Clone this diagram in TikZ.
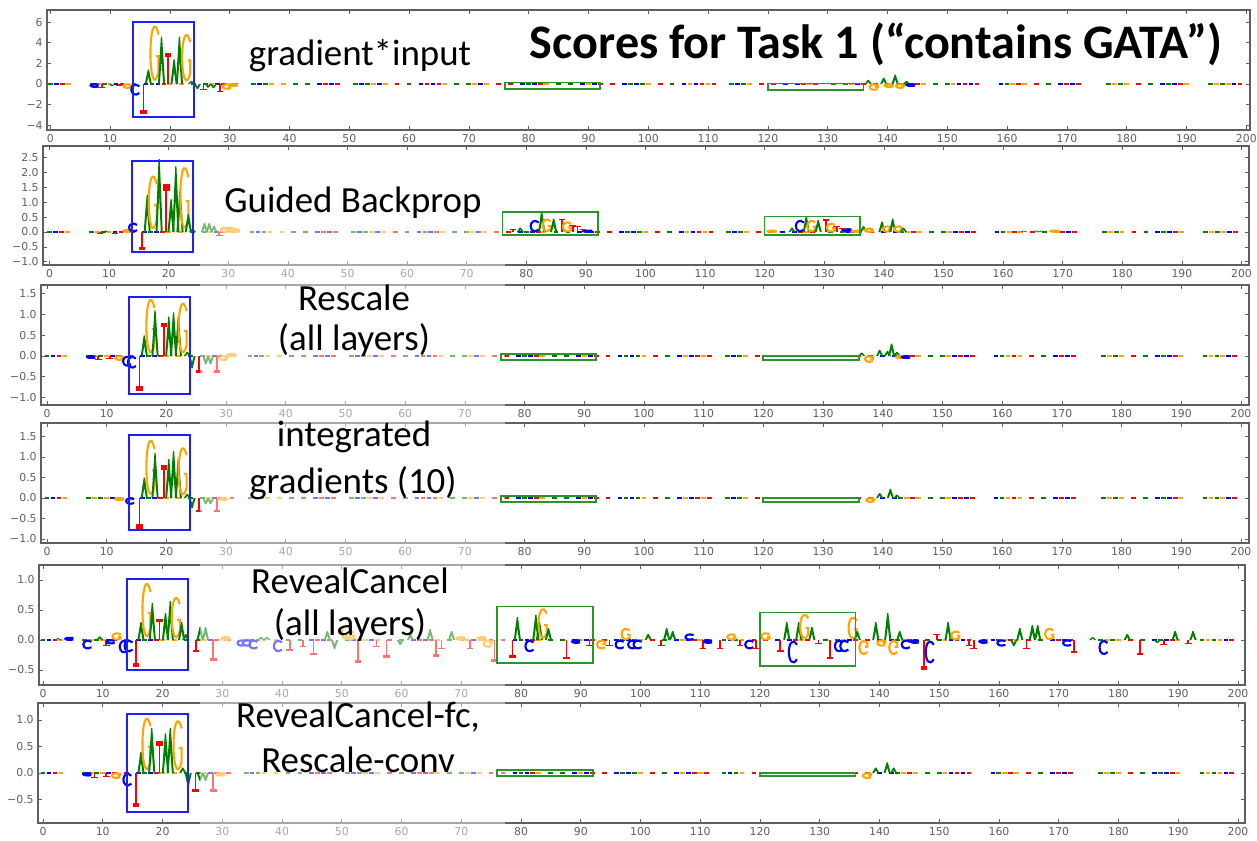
\documentclass[tikz,border=0pt]{standalone}
\usepackage{fontspec}
\setmainfont{Carlito}
\newfontfamily\tickfont{DejaVu Sans}
\usetikzlibrary{positioning}
\definecolor{baseA}{RGB}{0,128,0}
\definecolor{baseC}{RGB}{0,0,255}
\definecolor{baseG}{RGB}{255,165,0}
\definecolor{baseT}{RGB}{255,0,0}
\definecolor{axisgray}{RGB}{95,95,95}
\definecolor{boxgreen}{RGB}{40,150,40}
\definecolor{boxblue}{RGB}{30,30,255}
\colorlet{track0}{baseA}
\colorlet{track1}{baseC}
\colorlet{track2}{baseG}
\colorlet{track3}{baseT}

\tikzset{
  frame/.style={draw=axisgray, line width=0.8pt},
  tickmark/.style={draw=axisgray, line width=0.4pt},
  ticklab/.style={font=\tickfont\fontsize{6.2}{7}\selectfont, text=axisgray, inner sep=0pt},
  motifbox/.style={draw=boxblue, line width=1.1pt},
  sitebox/.style={draw=boxgreen, line width=1pt},
  method/.style={font=\fontsize{21}{24}\selectfont, inner sep=0pt, anchor=base},
  % data coordinates of each panel (shift in pixels, then units per score)
  gradpanel/.style={shift={(50.3,84)}, x={(0.1196cm,0cm)}, y={(0cm,0.206cm)}},
  guidedpanel/.style={shift={(49.5,232)}, x={(0.1192cm,0cm)}, y={(0cm,0.596cm)}},
  rescalepanel/.style={shift={(47,356)}, x={(0.1194cm,0cm)}, y={(0cm,0.83cm)}},
  intgradpanel/.style={shift={(47,498)}, x={(0.1194cm,0cm)}, y={(0cm,0.82cm)}},
  revealpanel/.style={shift={(43,640)}, x={(0.1195cm,0cm)}, y={(0cm,1.2cm)}},
  mixedpanel/.style={shift={(43,773)}, x={(0.1195cm,0cm)}, y={(0cm,1.06cm)}},
}

% letters of the logo: position, height
\newcommand{\logoA}[2]{\fill[fill=baseA] ({#1-0.6},0) -- ({#1-0.1},#2) -- ({#1+0.1},#2) -- ({#1+0.6},0) -- ({#1+0.28},0) -- (#1,{0.5*#2}) -- ({#1-0.28},0) -- cycle;}
\newcommand{\logoT}[2]{\fill[fill=baseT] ({#1-0.14},0) rectangle ({#1+0.14},#2); \fill[fill=baseT] ({#1-0.55},#2) rectangle ({#1+0.55},{0.86*#2});}
\newcommand{\logoC}[2]{\draw[draw=baseC, line width=1.2pt] ({#1+0.6},{0.8*#2}) .. controls ({#1-0.1},{1.1*#2}) and ({#1-0.75},{0.85*#2}) .. ({#1-0.75},{0.5*#2}) .. controls ({#1-0.75},{0.15*#2}) and ({#1-0.1},{-0.1*#2}) .. ({#1+0.6},{0.2*#2});}
\newcommand{\logoG}[2]{\draw[draw=baseG, line width=1.2pt] ({#1+0.6},{0.8*#2}) .. controls ({#1-0.1},{1.1*#2}) and ({#1-0.75},{0.85*#2}) .. ({#1-0.75},{0.5*#2}) .. controls ({#1-0.75},{0.15*#2}) and ({#1-0.1},{-0.1*#2}) .. ({#1+0.6},{0.2*#2}) -- ({#1+0.6},{0.45*#2}) -- ({#1+0.15},{0.45*#2});}
\newcommand{\logo}[3]{\csname logo#1\endcsname{#2}{#3}}

% flat track of small letters along zero
\newcommand{\seqtrack}{%
  \foreach \i in {0,...,199}{
    \pgfmathtruncatemacro\k{mod(mod(\i*37,11)*3+mod(\i*13,17),6)}
    \ifnum\k<4 \draw[line width=1pt, draw=track\k] ({\i-0.4},0) -- ({\i+0.4},0);\fi
  }}

% frame and x ticks: x0, sx, left, right, top, bottom
\newcommand{\xaxis}[6]{%
  \draw[frame] (#3,#5) rectangle (#4,#6);
  \foreach \t in {0,10,...,200}{
    \pgfmathsetmacro\tx{#1+#2*\t}
    \draw[tickmark] (\tx,#6) -- ++(0,-4) (\tx,#5) -- ++(0,4);
    \node[ticklab] at (\tx,#6+9) {\t};
  }}
% y ticks: y0, sy, left, right, values
\newcommand{\yaxis}[5]{%
  \foreach \v/\lab in {#5}{
    \pgfmathsetmacro\ty{#1-#2*\v}
    \draw[tickmark] (#3,\ty) -- ++(4,0) (#4,\ty) -- ++(-4,0);
    \node[ticklab, anchor=east] at (#3-4,\ty) {\lab};
  }}

\begin{document}
\begin{tikzpicture}[x=0.02cm, y=-0.02cm]
  \useasboundingbox (0,0) rectangle (1257,840);
  \fill[fill=white] (0,0) rectangle (1257,840);

  % gradient*input
  \xaxis{50.3}{5.98}{47}{1250}{10}{130}
  \yaxis{84}{10.3}{47}{1250}{-4/−4,-2/−2,0/0,2/2,4/4,6/6}
  \begin{scope}[gradpanel]
    \seqtrack
    \foreach \b/\p/\h in {C/7.5/-0.3, T/8.6/-0.35, A/10.3/-0.2, T/11.5/-0.15, G/13/-0.4,
        C/14.3/-1.1, T/15.6/-2.9, A/16.4/1.4, G/17.5/6.0, A/18.6/4.6, T/19.7/3.0, A/20.7/2.4,
        A/21.6/4.6, G/22.8/5.1, A/23.6/0.3, A/24.6/-0.5, T/25.6/-0.6, A/26.4/-0.35, A/27.3/-0.4,
        T/28.4/-0.75, G/29.6/-0.5, G/30.6/-0.2, A/136.8/0.4, G/137.8/-0.6, A/139.4/0.6,
        G/140.3/-0.3, A/141.3/0.9, G/142.2/-0.4, A/143.2/0.3, C/144/-0.2}
      {\logo{\b}{\p}{\h}}
  \end{scope}

  % Guided Backprop
  \xaxis{49.5}{5.96}{43}{1249}{146}{265}
  \yaxis{232}{29.8}{43}{1249}{-1.0/−1.0,-0.5/−0.5,0/0.0,0.5/0.5,1.0/1.0,1.5/1.5,2.0/2.0,2.5/2.5}
  \begin{scope}[guidedpanel]
    \seqtrack
    \foreach \b/\p/\h in {A/9.3/0.05, T/8.5/-0.05, T/11/-0.05, G/13.2/0.08,
        C/14.1/0.3, T/15.5/-0.6, A/16.4/1.25, G/17.4/2.0, A/18.4/2.45, T/19.6/1.6, A/20.4/1.1,
        A/21.2/2.2, A/21.9/1.4, G/22.7/2.3, A/23.3/0.6, A/24/0.1, A/26/0.3, A/26.8/0.3,
        A/27.6/0.2, T/28.5/-0.1, G/29.5/0.15, G/30.4/0.15, G/31.2/0.1,
        T/77.8/0.1, A/79/0.15, C/81.5/0.4, A/82.6/0.68, G/83.5/0.45, A/84.6/0.45, T/86/0.45,
        G/86.9/0.35, T/87.8/0.25, T/88.6/0.2, T/89.5/0.1, C/90.5/0.05,
        G/121.3/0.05, A/124.6/0.15, C/126/0.4, A/127/0.52, G/127.9/0.4, A/129/0.4, T/130.3/0.42,
        G/131.2/0.3, T/132.1/0.2, T/133/0.15, C/134/0.1, G/135.5/0.05,
        A/136.6/0.2, G/137.6/0.12, A/139.7/0.35, G/140.6/0.2, A/141.5/0.45, G/142.5/0.2,
        A/143.3/0.15, A/163.5/0.05, A/165.5/0.05, A/166.5/0.05, G/168.8/0.05}
      {\logo{\b}{\p}{\h}}
  \end{scope}

  % Rescale
  \xaxis{47}{5.97}{41}{1249}{285}{405}
  \yaxis{356}{41.5}{41}{1249}{-1.0/−1.0,-0.5/−0.5,0/0.0,0.5/0.5,1.0/1.0,1.5/1.5}
  \begin{scope}[rescalepanel]
    \seqtrack
    \foreach \b/\p/\h in {C/7.5/-0.05, T/8.6/-0.08, T/10.5/-0.05, G/12.2/-0.1,
        C/13.5/-0.25, C/14.3/-0.3, T/15.5/-0.85, A/16.3/0.5, G/17.4/1.45, A/18.1/1.1,
        T/19.6/0.8, A/20.4/0.95, A/21.2/1.05, A/22/0.95, G/22.8/1.35, A/23.5/0.1,
        A/24.3/-0.3, T/25.5/-0.4, A/26.6/-0.2, A/27.4/-0.2, T/28.5/-0.4, G/29.6/-0.1, G/31/0.05,
        A/136.5/0.08, G/137.8/-0.15, A/139.5/0.15, A/140.8/0.12, A/141.5/0.3, A/142.4/0.1,
        G/143/-0.05, C/144/-0.05}
      {\logo{\b}{\p}{\h}}
  \end{scope}

  % integrated gradients
  \xaxis{47}{5.97}{41}{1249}{423}{543}
  \yaxis{498}{41}{41}{1249}{-1.0/−1.0,-0.5/−0.5,0/0.0,0.5/0.5,1.0/1.0,1.5/1.5}
  \begin{scope}[intgradpanel]
    \seqtrack
    \foreach \b/\p/\h in {G/12.2/-0.05, C/14/-0.15, T/15.5/-0.75, A/16.3/0.5, G/17.4/1.5,
        A/18.1/1.1, T/19.6/0.8, A/20.4/0.95, A/21.2/1.15, A/22/0.95, G/22.8/1.3, A/23.5/0.1,
        A/24.3/-0.25, T/25.5/-0.35, A/26.6/-0.15, A/27.4/-0.15, T/28.5/-0.35, G/29.6/-0.05,
        G/138/-0.1, A/139.5/0.12, A/141.3/0.22, A/142.4/0.08}
      {\logo{\b}{\p}{\h}}
  \end{scope}

  % RevealCancel
  \xaxis{43}{5.975}{39}{1245}{565}{685}
  \yaxis{640}{60}{39}{1245}{-0.5/−0.5,0/0.0,0.5/0.5,1.0/1.0}
  \begin{scope}[revealpanel]
    \seqtrack
    \foreach \b/\p/\h in {A/2.5/0.03, C/4.5/0.04, C/7.5/-0.15, A/9.5/0.06, T/10.6/-0.1,
        C/11.4/-0.06, G/12.4/0.12, C/13.6/-0.22, C/14.4/-0.2, T/15.6/-0.45, A/16.4/0.3,
        G/17.4/1.0, A/18.3/0.62, T/19.5/0.35, A/20.5/0.45, A/21.3/0.65, G/22.3/0.75,
        A/23.2/0.3, A/23.9/0.1, T/25.6/-0.2, A/26.3/0.22, A/27.2/0.22, T/28.5/-0.35,
        G/30.6/0.05, C/33.3/-0.1, C/34.2/-0.1, C/35.3/-0.15, A/36.5/0.05, A/37.5/0.05,
        C/39.4/-0.2, T/41.3/-0.18, T/43.5/-0.12, T/45.3/-0.25, A/47.6/0.15, A/48.8/-0.15,
        G/50.8/0.25, G/51.5/0.15, T/52.7/-0.38, T/55.8/-0.12, T/57.5/-0.3, A/59.8/-0.08,
        A/61.5/0.1, A/64.8/0.18, T/65.8/-0.28, T/66.7/-0.15, A/68.4/0.15, G/70/0.05,
        T/71.5/-0.15, G/73.5/0.05, G/74.5/-0.12, T/75.6/-0.36,
        T/78.6/-0.3, A/79.4/0.38, C/81.5/-0.2, A/82.5/0.42, A/83.1/0.3, G/83.7/0.55,
        A/84.6/0.2, T/87.6/-0.32, C/89.3/-0.05, T/91.5/-0.1,
        G/93.5/-0.15, T/94.8/-0.1, C/96.6/-0.15, G/97.6/0.2, C/98.7/-0.15, C/99.6/-0.15,
        A/101.3/0.1, T/103.5/-0.1, A/104.4/0.2, A/105.4/0.15, C/108.3/0.1, T/110.5/-0.15,
        C/111.4/-0.05, T/113.3/-0.15, G/115.3/0.1, T/116.7/-0.1, C/118.3/-0.15, T/119.3/-0.15,
        G/121/0.12, T/123.4/-0.2, A/124.5/0.3, C/125.6/-0.4, A/126.5/0.3, G/127.5/0.45,
        A/128.7/0.22, T/129.8/-0.05, T/131.7/-0.32, C/133.3/-0.2, C/134.2/-0.2, G/135.6/0.4,
        A/136.3/0.15, G/137.4/-0.25, A/139.4/0.3, G/140.4/-0.1, A/141.4/0.45, G/142.4/-0.25,
        A/143.4/0.15, C/144.5/-0.15, C/146/-0.05, T/147.5/-0.5, C/148.5/-0.4, T/149.6/0.1,
        A/151.5/0.3, G/152.8/0.15, T/155/-0.1, T/155.8/-0.15, C/157.5/-0.05, C/160.5/-0.1,
        A/162.5/-0.1, A/163.5/0.2, T/164.6/-0.15, A/165.6/0.25, A/166.5/0.25, G/168.5/0.2,
        C/171.5/-0.1, T/172.6/-0.22, A/175.7/0.05, C/177.6/-0.25, A/181.5/0.1, T/183.6/-0.25,
        A/186.5/-0.05, T/187.6/-0.07, A/189.5/0.15, T/191.7/-0.05, A/192.5/0.15}
      {\logo{\b}{\p}{\h}}
  \end{scope}

  % RevealCancel-fc, Rescale-conv
  \xaxis{43}{5.975}{38}{1245}{703}{823}
  \yaxis{773}{53}{38}{1245}{-0.5/−0.5,0/0.0,0.5/0.5,1.0/1.0}
  \begin{scope}[mixedpanel]
    \seqtrack
    \foreach \b/\p/\h in {C/7.5/-0.05, T/8.6/-0.08, T/10.6/-0.06, G/12.3/-0.1,
        C/14.2/-0.25, T/15.6/-0.65, A/16.4/0.4, G/17.4/1.1, A/18.2/0.85, T/19.5/0.6,
        A/20.5/0.75, A/21.3/0.85, G/22.6/1.05, A/23.4/0.1, A/24.3/-0.25, T/25.5/-0.35,
        A/26.3/-0.15, A/27.2/-0.15, T/28.5/-0.35, G/29.8/-0.05,
        G/138/-0.1, A/139.4/0.1, A/141.3/0.2, A/142.4/0.1}
      {\logo{\b}{\p}{\h}}
  \end{scope}

  % pasted strip that washes out the plots
  \fill[fill=white, opacity=0.45] (200,150) rectangle (505,840);

  % motif and site boxes
  \begin{scope}[gradpanel]
    \draw[motifbox] (13.9,-3.2) rectangle (24.1,6.0);
    \draw[sitebox] (76,-0.5) rectangle (92,0.15);
    \draw[sitebox] (120,-0.55) rectangle (136,0.05);
  \end{scope}
  \begin{scope}[guidedpanel]
    \draw[motifbox] (13.9,-0.66) rectangle (24.1,2.39);
    \draw[sitebox] (76,-0.1) rectangle (92,0.68);
    \draw[sitebox] (120,-0.1) rectangle (136,0.52);
  \end{scope}
  \begin{scope}[rescalepanel]
    \draw[motifbox] (13.8,-0.92) rectangle (24,1.43);
    \draw[sitebox] (76,-0.1) rectangle (92,0.05);
    \draw[sitebox] (120,-0.1) rectangle (136,0.0);
  \end{scope}
  \begin{scope}[intgradpanel]
    \draw[motifbox] (13.8,-0.78) rectangle (24,1.53);
    \draw[sitebox] (76,-0.1) rectangle (92,0.05);
    \draw[sitebox] (120,-0.1) rectangle (136,0.0);
  \end{scope}
  \begin{scope}[revealpanel]
    \draw[motifbox] (14.1,-0.5) rectangle (24.3,1.02);
    \draw[sitebox] (76,-0.38) rectangle (92,0.56);
    \draw[sitebox] (120,-0.43) rectangle (136,0.46);
  \end{scope}
  \begin{scope}[mixedpanel]
    \draw[motifbox] (14.1,-0.73) rectangle (24.2,1.12);
    \draw[sitebox] (76,-0.05) rectangle (92,0.05);
    \draw[sitebox] (120,-0.05) rectangle (136,0.0);
  \end{scope}

  \node[font=\bfseries\fontsize{27.4}{30}\selectfont, inner sep=0pt, anchor=base] (title) at (876,58) {Scores for Task 1 (“contains GATA”)};
  \node[method] (gradinput) at (360,65) {gradient*input};
  \node[method] (guided) at (353,212) {Guided Backprop};
  \node[method] (rescaleA) at (354,310) {Rescale};
  \node[method] (rescaleB) at (354,350) {(all layers)};
  \node[method] (intgradA) at (354,446) {integrated};
  \node[method] (intgradB) at (353,493) {gradients (10)};
  \node[method] (revealA) at (350,593) {RevealCancel};
  \node[method] (revealB) at (350,635) {(all layers)};
  \node[method] (mixedA) at (358,727) {RevealCancel-fc,};
  \node[method] (mixedB) at (358,772) {Rescale-conv};
\end{tikzpicture}
\end{document}
